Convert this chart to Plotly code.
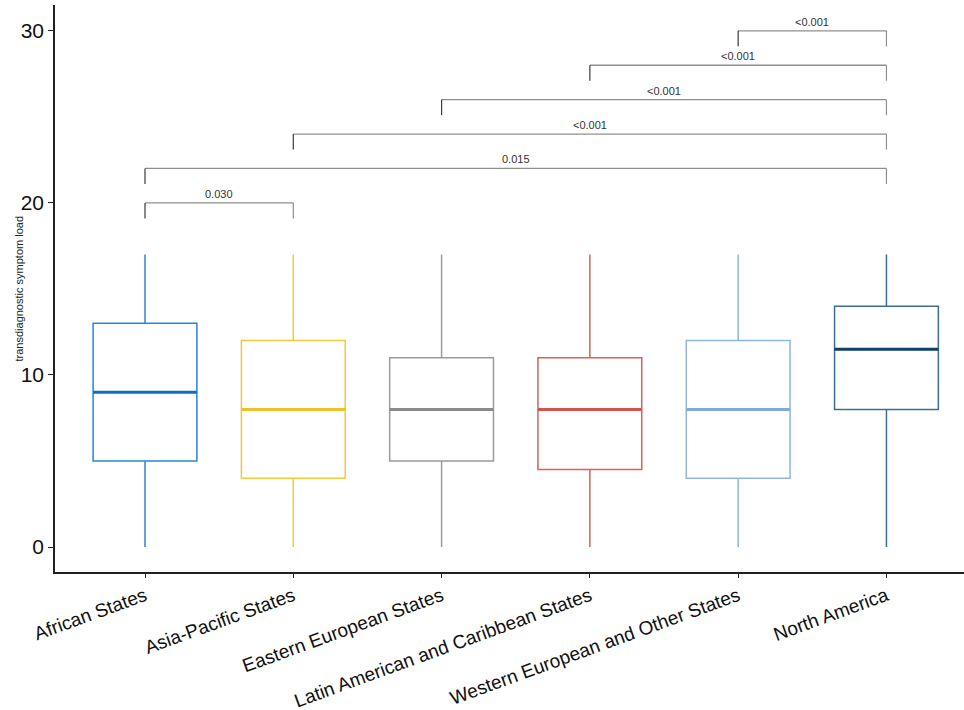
import plotly.graph_objects as go

# Regions and their box summary statistics
regions = [
    "African States",
    "Asia-Pacific States",
    "Eastern European States",
    "Latin American and Caribbean States",
    "Western European and Other States",
    "North America",
]
lower_whisker = [0, 0, 0, 0, 0, 0]
q1_values = [5, 4, 5, 4.5, 4, 8]
median_values = [9, 8, 8, 8, 8, 11.5]
q3_values = [13, 12, 11, 11, 12, 14]
upper_whisker = [17, 17, 17, 17, 17, 17]

box_colors = ["#2a86d6", "#f5c73a", "#9b9b9b", "#d9625a", "#8fb5e6", "#3d6d95"]
median_colors = ["#0c6fc0", "#f0c02a", "#8a8a8a", "#d2544c", "#80aae0", "#0f3f6b"]

# Pairwise comparisons (index pairs) and their p-value labels
comparison_pairs = [(0, 1), (0, 5), (1, 5), (2, 5), (3, 5), (4, 5)]
p_labels = ["0.030", "0.015", "<0.001", "<0.001", "<0.001", "<0.001"]

y_ticks = [0, 10, 20, 30]

BOX_WIDTH = 0.7
FONT = "Liberation Sans, Arial"
fig = go.Figure()

for i, name in enumerate(regions):
    fig.add_trace(go.Box(
        x=[i],
        q1=[q1_values[i]],
        median=[median_values[i]],
        q3=[q3_values[i]],
        lowerfence=[lower_whisker[i]],
        upperfence=[upper_whisker[i]],
        width=BOX_WIDTH,
        fillcolor="white",
        line=dict(color=box_colors[i], width=1.5),
        boxpoints=False,
        whiskerwidth=0,
        name=name,
        showlegend=False,
        hoverinfo="skip",
    ))
    # thicker median bar drawn over the box
    fig.add_trace(go.Scatter(
        x=[i - BOX_WIDTH / 2, i + BOX_WIDTH / 2],
        y=[median_values[i], median_values[i]],
        mode="lines",
        line=dict(color=median_colors[i], width=3),
        showlegend=False,
        hoverinfo="skip",
    ))

# Significance brackets stacked above the boxes
base_level = 20
step = 2
drop = 0.9
for k, ((a, b), label) in enumerate(zip(comparison_pairs, p_labels)):
    y = base_level + step * k
    fig.add_shape(type="line", x0=a, x1=b, y0=y, y1=y,
                  xref="x", yref="y", line=dict(color="#8f8f8f", width=1.3))
    fig.add_shape(type="line", x0=a, x1=a, y0=y, y1=y - drop,
                  xref="x", yref="y", line=dict(color="#3a3a3a", width=1.2))
    fig.add_shape(type="line", x0=b, x1=b, y0=y, y1=y - drop,
                  xref="x", yref="y", line=dict(color="#8f8f8f", width=1.2))
    fig.add_annotation(x=(a + b) / 2, y=y, text=label, showarrow=False,
                       xref="x", yref="y", yanchor="bottom", yshift=1,
                       font=dict(size=11, color="#333333", family=FONT))

# y-axis title placed close to the tick labels
fig.add_annotation(x=-0.0407, y=0.5, xref="paper", yref="paper",
                   text="transdiagnostic symptom load", textangle=-90,
                   showarrow=False, xanchor="center", yanchor="middle",
                   font=dict(size=11, color="#222222", family=FONT))

fig.update_layout(
    width=964, height=710,
    margin=dict(l=55, r=0, t=5, b=138),
    plot_bgcolor="white", paper_bgcolor="white",
    font=dict(family=FONT, color="#222222"),
    showlegend=False,
)
fig.update_xaxes(
    range=[-0.607, 5.523], automargin=False,
    tickmode="array", tickvals=list(range(len(regions))), ticktext=regions,
    tickangle=-20, tickfont=dict(size=19, color="#111111"),
    showline=True, linecolor="#222222", linewidth=1.5,
    ticks="outside", ticklen=4, tickcolor="#222222", tickwidth=1,
    showgrid=False, zeroline=False,
)
fig.update_yaxes(
    range=[-1.45, 31.5], automargin=False,
    tickmode="array", tickvals=y_ticks,
    tickfont=dict(size=21, color="#111111"),
    showline=True, linecolor="#222222", linewidth=1.5,
    ticks="outside", ticklen=5, tickcolor="#222222", tickwidth=1,
    showgrid=False, zeroline=False,
)

fig.write_html("out.html")
